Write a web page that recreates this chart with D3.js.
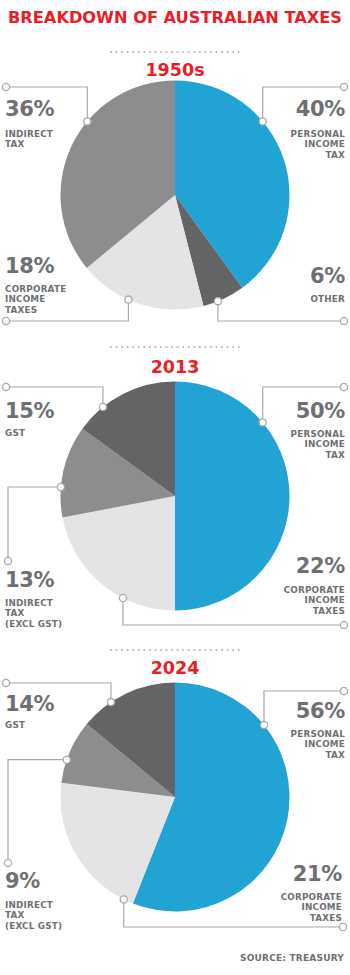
<!DOCTYPE html>
<html><head><meta charset="utf-8">
<script src="https://cdn.jsdelivr.net/npm/d3@7"></script>
<style>body{margin:0;background:#fff}svg{display:block}</style>
</head><body>
<script>
// ---- data ----
const title = "BREAKDOWN OF AUSTRALIAN TAXES";
const source = "SOURCE: TREASURY";
const years = ["1950s", "2013", "2024"];
const categories1950 = ["PERSONAL INCOME TAX", "OTHER", "CORPORATE INCOME TAXES", "INDIRECT TAX"];
const values1950 = [40, 6, 18, 36];
const categories2013 = ["PERSONAL INCOME TAX", "CORPORATE INCOME TAXES", "INDIRECT TAX (EXCL GST)", "GST"];
const values2013 = [50, 22, 13, 15];
const categories2024 = ["PERSONAL INCOME TAX", "CORPORATE INCOME TAXES", "INDIRECT TAX (EXCL GST)", "GST"];
const values2024 = [56, 21, 9, 14];
const labelLines = {
  "PERSONAL INCOME TAX": ["PERSONAL", "INCOME", "TAX"],
  "OTHER": ["OTHER"],
  "CORPORATE INCOME TAXES": ["CORPORATE", "INCOME", "TAXES"],
  "INDIRECT TAX": ["INDIRECT", "TAX"],
  "INDIRECT TAX (EXCL GST)": ["INDIRECT", "TAX", "(EXCL GST)"],
  "GST": ["GST"]
};

// ---- styles ----
const colorOf = {
  "PERSONAL INCOME TAX": "#21a3d4",
  "OTHER": "#636466",
  "CORPORATE INCOME TAXES": "#e4e4e7",
  "INDIRECT TAX": "#8d8d90",
  "INDIRECT TAX (EXCL GST)": "#8d8d90",
  "GST": "#636466"
};
const RED = "#ec1c24", GRAY = "#6f7073", LINE = "#a8a9ac";
const FONT = "'DejaVu Sans', sans-serif";

// ---- layout (per panel) ----
const panels = [
  { year: years[0], cats: categories1950, vals: values1950, cy: 195, dotY: 52, yearY: 76,
    labels: [
      { ang: 50, type: "vh", lv: 87, end: 344, tx: 345, anchor: "end", pctY: 116, lineY: 137 },
      { ang: 158, type: "vh", lv: 321, end: 344, tx: 345, anchor: "end", pctY: 283, lineY: 302 },
      { ang: 204, type: "vh", lv: 321, end: 6, tx: 5, anchor: "start", pctY: 273, lineY: 292 },
      { ang: 310, type: "vh", lv: 87, end: 6, tx: 5, anchor: "start", pctY: 116, lineY: 137 }
    ]},
  { year: years[1], cats: categories2013, vals: values2013, cy: 496, dotY: 347, yearY: 373,
    labels: [
      { ang: 50, type: "vh", lv: 387, end: 344, tx: 345, anchor: "end", pctY: 418, lineY: 437 },
      { ang: 207, type: "vh", lv: 625, end: 344, tx: 345, anchor: "end", pctY: 573, lineY: 593 },
      { ang: 274.5, type: "hv", lv: 8, end: 561, tx: 5, anchor: "start", pctY: 587, lineY: 606 },
      { ang: 321, type: "vh", lv: 387, end: 6, tx: 5, anchor: "start", pctY: 418, lineY: 436 }
    ]},
  { year: years[2], cats: categories2024, vals: values2024, cy: 797, dotY: 650, yearY: 674,
    labels: [
      { ang: 51, type: "vh", lv: 691, end: 344, tx: 345, anchor: "end", pctY: 718, lineY: 737 },
      { ang: 206.6, type: "vh", lv: 927, end: 343, tx: 342, anchor: "end", pctY: 881, lineY: 900 },
      { ang: 289, type: "hv", lv: 8, end: 863, tx: 5, anchor: "start", pctY: 888, lineY: 908 },
      { ang: 326, type: "vh", lv: 683, end: 6, tx: 5, anchor: "start", pctY: 711, lineY: 728 }
    ]}
];
const W = 350, H = 975, CX = 175, R = 114.5;

const svg = d3.select("body").append("svg").attr("width", W).attr("height", H);
svg.append("rect").attr("width", W).attr("height", H).attr("fill", "#fff");

svg.append("text").attr("x", 8).attr("y", 23).text(title)
  .attr("font-family", FONT).attr("font-weight", "bold").attr("font-size", 15.5)
  .attr("fill", RED).attr("textLength", 334).attr("lengthAdjust", "spacingAndGlyphs");

const pie = d3.pie().sort(null).value(d => d);
const arc = d3.arc().innerRadius(0).outerRadius(R);

panels.forEach(p => {
  // dotted separator
  svg.append("line").attr("x1", 111).attr("x2", 240).attr("y1", p.dotY).attr("y2", p.dotY)
    .attr("stroke", "#b3b4b7").attr("stroke-width", 2).attr("stroke-linecap", "round")
    .attr("stroke-dasharray", "0,5.55");
  svg.append("text").attr("x", CX).attr("y", p.yearY).attr("text-anchor", "middle")
    .attr("font-family", FONT).attr("font-weight", "bold").attr("font-size", 17.5)
    .attr("fill", RED).text(p.year);

  const g = svg.append("g").attr("transform", `translate(${CX},${p.cy})`);
  g.selectAll("path").data(pie(p.vals)).join("path")
    .attr("d", arc).attr("fill", (d, i) => colorOf[p.cats[i]]);

  p.labels.forEach((L, i) => {
    const a = L.ang * Math.PI / 180;
    const mx = CX + R * Math.sin(a), my = p.cy - R * Math.cos(a);
    let pts;
    if (L.type === "vh") { pts = [[mx, my], [mx, L.lv], [L.end, L.lv]]; }
    else { pts = [[mx, my], [L.lv, my], [L.lv, L.end]]; }
    const endPt = pts[2];
    svg.append("path").attr("d", d3.line()(pts)).attr("fill", "none")
      .attr("stroke", LINE).attr("stroke-width", 1.2);
    [[mx, my], endPt].forEach(c => svg.append("circle").attr("cx", c[0]).attr("cy", c[1]).attr("r", 3.6)
      .attr("fill", "#fff").attr("stroke", LINE).attr("stroke-width", 1.3));

    svg.append("text").attr("x", L.tx).attr("y", L.pctY).attr("text-anchor", L.anchor)
      .attr("font-family", FONT).attr("font-weight", "bold").attr("font-size", 21)
      .attr("letter-spacing", -0.3).attr("fill", GRAY).text(p.vals[i] + "%");
    labelLines[p.cats[i]].forEach((t, k) => {
      svg.append("text").attr("x", L.tx).attr("y", L.lineY + k * 10.3).attr("text-anchor", L.anchor)
        .attr("font-family", FONT).attr("font-weight", "bold").attr("font-size", 8.8)
        .attr("letter-spacing", 0.2).attr("fill", GRAY).text(t);
    });
  });
});

svg.append("text").attr("x", 344).attr("y", 961).attr("text-anchor", "end")
  .attr("font-family", FONT).attr("font-weight", "bold").attr("font-size", 9)
  .attr("letter-spacing", 0.2).attr("fill", GRAY).text(source);
</script>
</body></html>
